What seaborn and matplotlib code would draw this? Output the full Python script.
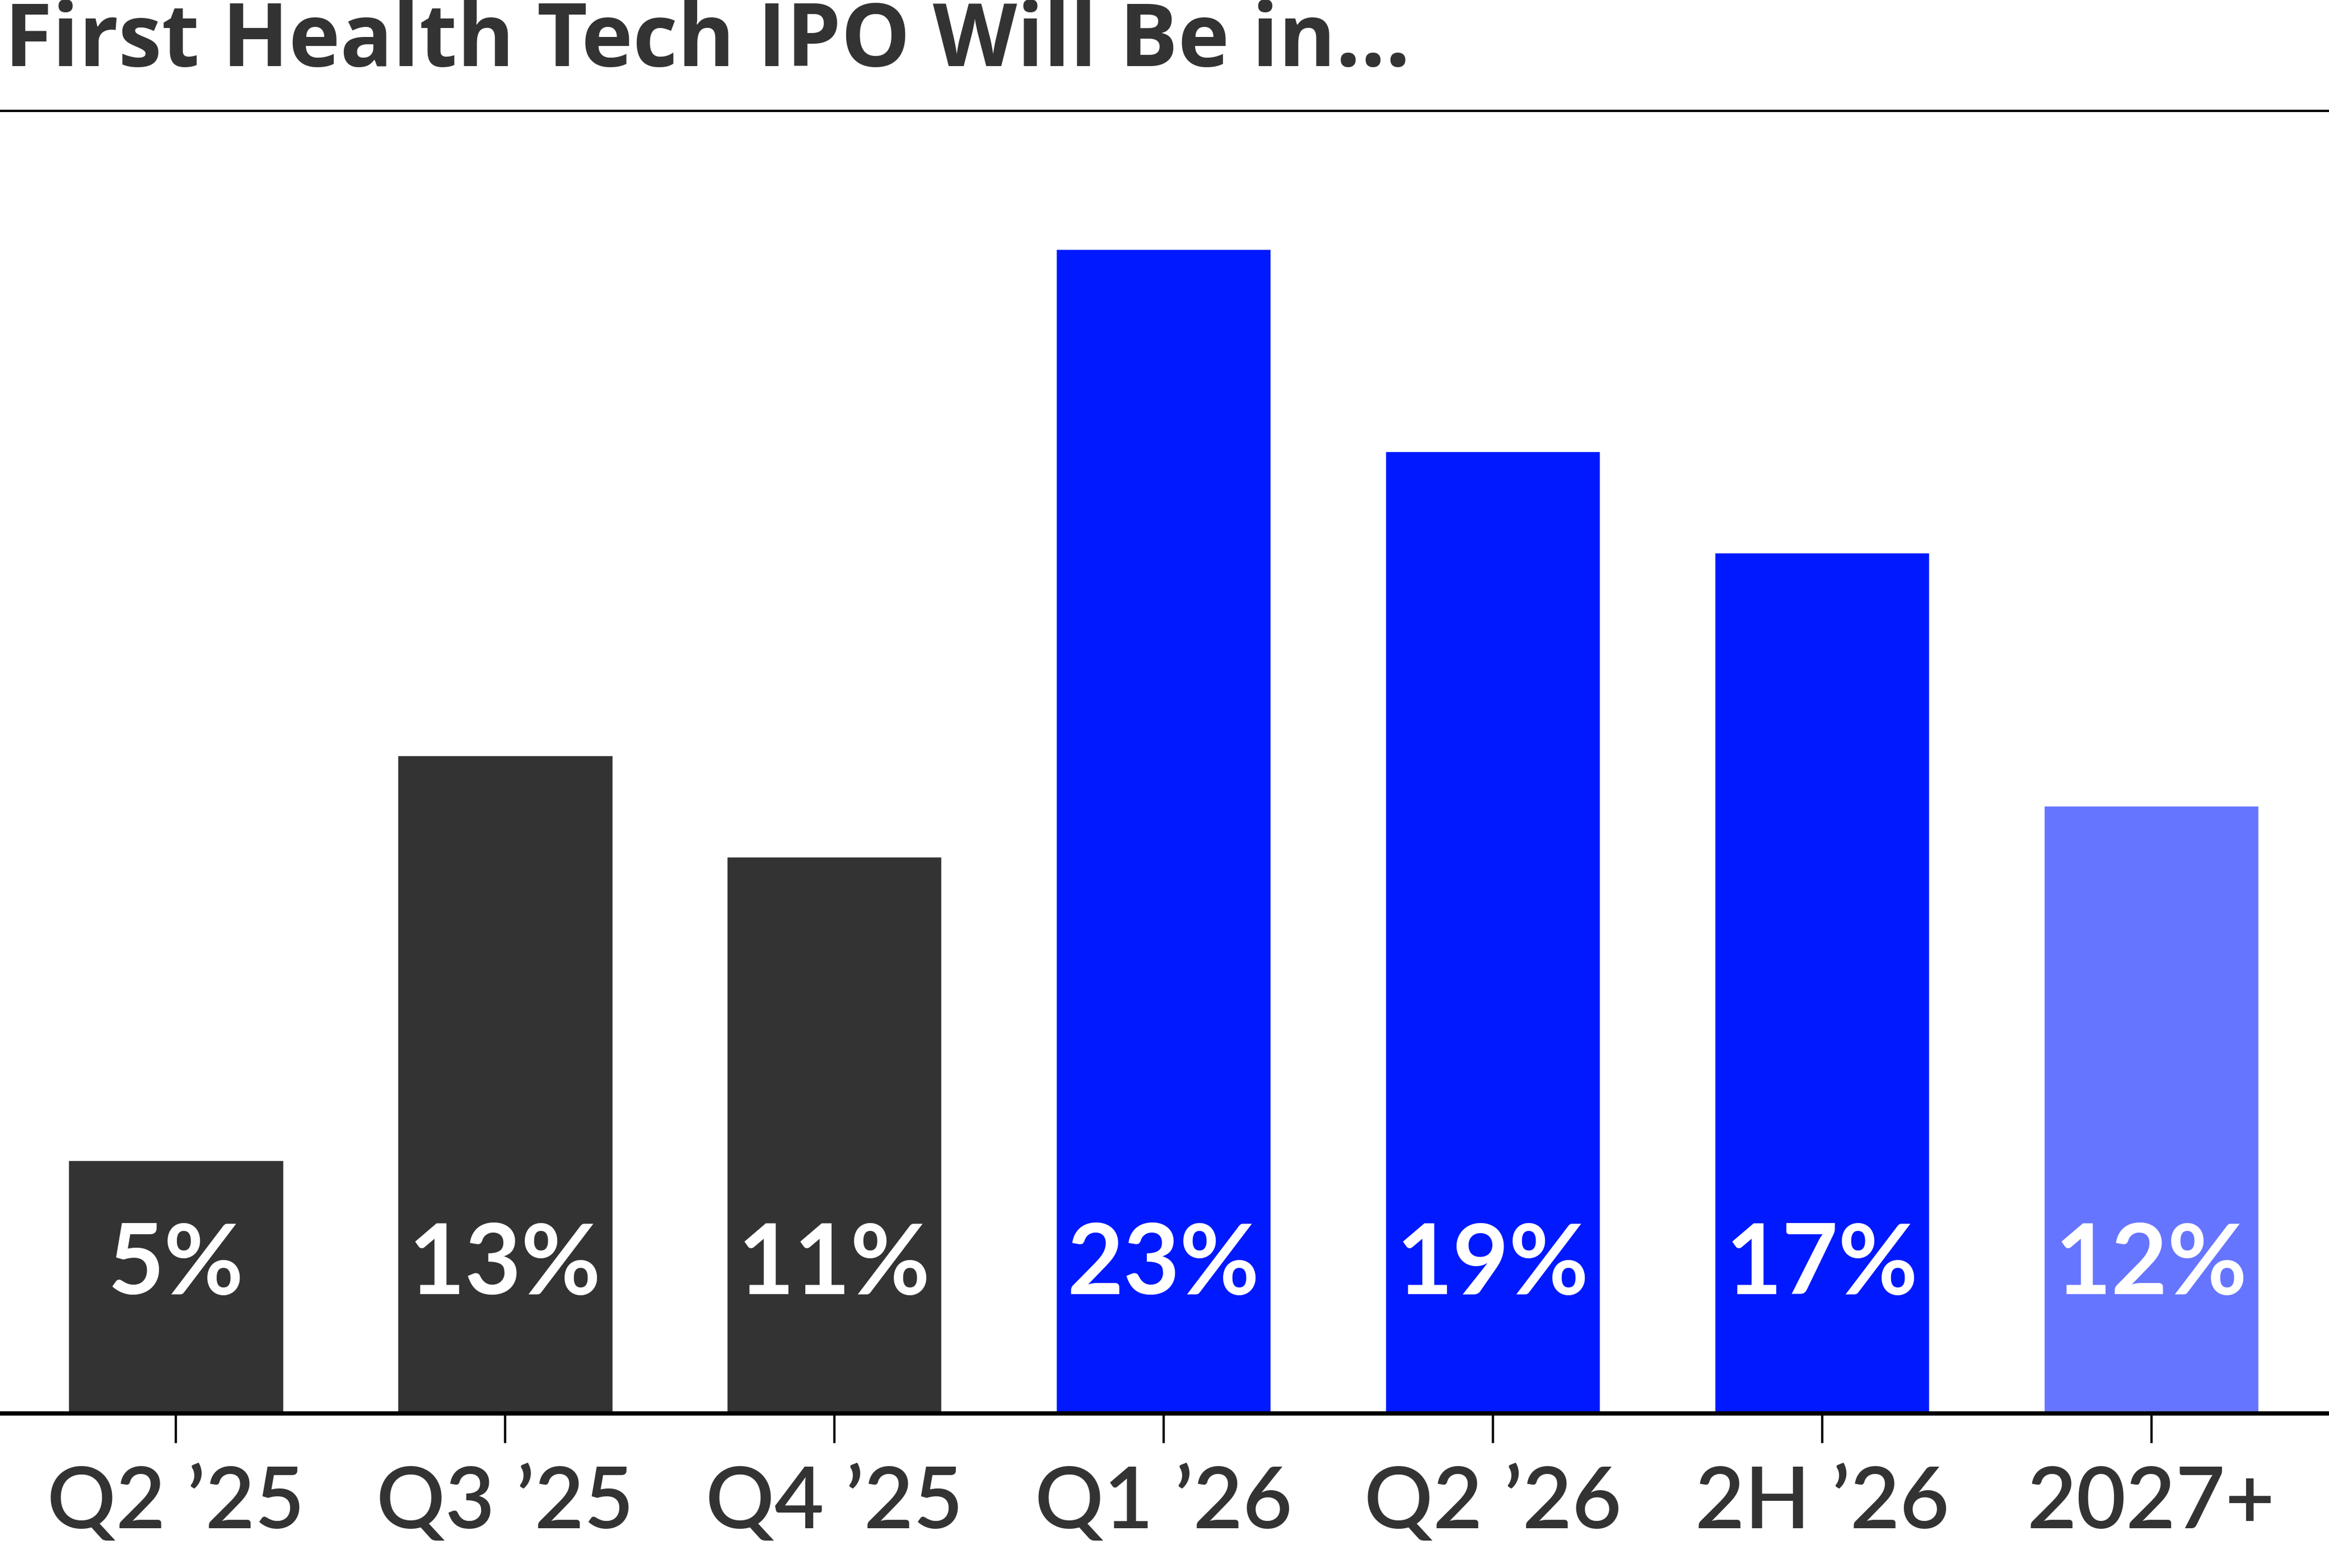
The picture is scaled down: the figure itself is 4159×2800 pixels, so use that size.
import matplotlib
matplotlib.use("Agg")
import matplotlib.pyplot as plt
import seaborn as sns
import pandas as pd

categories = ["Q2 \u201925", "Q3 \u201925", "Q4 \u201925", "Q1 \u201926", "Q2 \u201926", "2H \u201926", "2027+"]
values = [5, 13, 11, 23, 19, 17, 12]
bar_colors = ["#333333", "#333333", "#333333", "#0019FF", "#0019FF", "#0019FF", "#6675FF"]
title = "First Health Tech IPO Will Be in..."

sns.set_style("white")
plt.rcParams["font.family"] = ["Lato", "DejaVu Sans"]

df = pd.DataFrame({"period": categories, "share": values})

fig = plt.figure(figsize=(41.59, 28), dpi=100)
ax = fig.add_axes([0, 1 - 2524 / 2800, 1, (2524 - 198) / 2800])

sns.barplot(data=df, x="period", y="share", hue="period", order=categories,
            palette=dict(zip(categories, bar_colors)), legend=False,
            width=0.652, saturation=1, ax=ax)

ax.set_xlim(-0.534, 6.54)
ax.set_ylim(0, 25.73)
ax.set_xlabel("")
ax.set_ylabel("")
ax.set_yticks([])

for s in ["left", "right"]:
    ax.spines[s].set_visible(False)
ax.spines["top"].set_visible(True)
ax.spines["top"].set_color("black")
ax.spines["top"].set_linewidth(3)
ax.spines["bottom"].set_color("black")
ax.spines["bottom"].set_linewidth(5.5)

ax.tick_params(axis="x", bottom=True, direction="out", length=38, width=3,
               color="black", pad=28, labelsize=110, labelcolor="#333333")
for lab in ax.get_xticklabels():
    lab.set_fontweight("semibold")

for i, v in enumerate(values):
    ax.text(i, 2.36, f"{v}%", ha="center", va="baseline", color="white",
            fontsize=125, fontweight="bold")

fig.text(0.002, 1 - 118 / 2800, title, ha="left", va="baseline",
         fontsize=112, fontweight="bold", color="#333333",
         family=["Open Sans", "DejaVu Sans"])

fig.savefig("out.png", dpi=100, facecolor="white")
